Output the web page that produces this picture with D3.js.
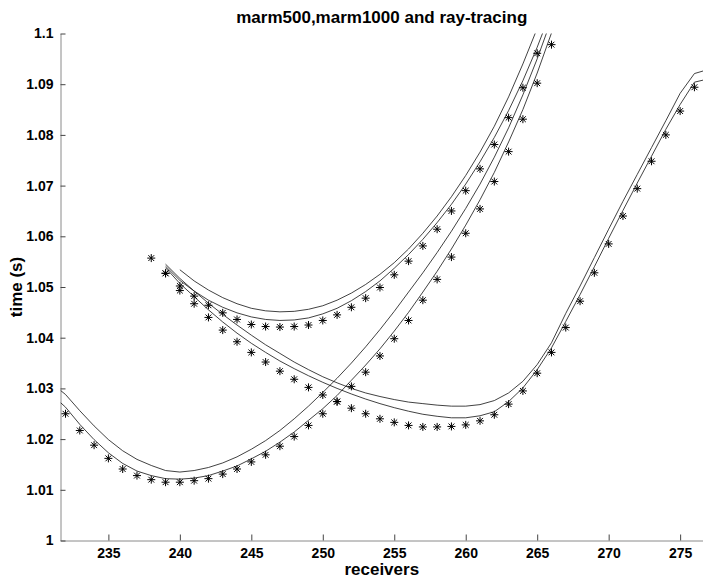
<!DOCTYPE html>
<html>
<head>
<meta charset="utf-8">
<script src="https://cdn.jsdelivr.net/npm/d3@7"></script>
<style>
  html, body { margin: 0; padding: 0; background: #fff; }
  svg { display: block; }
  text { font-family: "Liberation Sans", Arial, Helvetica, sans-serif; font-weight: bold; fill: #000; }
</style>
</head>
<body>
<svg id="chart" width="703" height="580"></svg>
<script>
// Axis ticks
const xTicks = [235, 240, 245, 250, 255, 260, 265, 270, 275];
const yTicks = [1, 1.01, 1.02, 1.03, 1.04, 1.05, 1.06, 1.07, 1.08, 1.09, 1.1];
const yTickLabels = ["1", "1.01", "1.02", "1.03", "1.04", "1.05", "1.06", "1.07", "1.08", "1.09", "1.1"];

// Shot A: ray-tracing picks and the two marmousi model runs
const rayA_x = [232,233,234,235,236,237,238,239,240,241,242,243,244,245,246,247,248,249,250,251,252,253,254,255,256,257,258,259,260,261,262,263,264,265,266];
const rayA_t = [1.0250,1.0217,1.0188,1.0162,1.0141,1.0128,1.0120,1.0115,1.0115,1.0118,1.0122,1.0131,1.0141,1.0155,1.0169,1.0186,1.0205,1.0227,1.0250,1.0274,1.0304,1.0332,1.0364,1.0398,1.0434,1.0474,1.0515,1.0559,1.0606,1.0654,1.0708,1.0767,1.0831,1.0902,1.0978];
const marmA_x = [231.65,232,233,234,235,236,237,238,239,240,241,242,243,244,245,246,247,248,249,250,251,252,253,254,255,256,257,258,259,260,261,262,263,264,265,266];
const marm1000A = [1.0272,1.0263,1.0229,1.0199,1.0173,1.0152,1.0137,1.0128,1.0122,1.0121,1.0123,1.0128,1.0137,1.0147,1.0161,1.0176,1.0194,1.0214,1.0237,1.0260,1.0286,1.0316,1.0346,1.0378,1.0413,1.0450,1.0490,1.0531,1.0575,1.0622,1.0672,1.0726,1.0786,1.0850,1.0922,1.1001];
const marm500A = [1.0296,1.0288,1.0256,1.0226,1.0199,1.0177,1.0160,1.0148,1.0138,1.0135,1.0138,1.0144,1.0153,1.0165,1.0180,1.0197,1.0217,1.0240,1.0265,1.0292,1.0320,1.0350,1.0382,1.0416,1.0452,1.0490,1.0528,1.0568,1.0610,1.0655,1.0703,1.0756,1.0814,1.0879,1.0950,1.1028];

// Shot B
const rayB_x = [238,239,240,241,242,243,244,245,246,247,248,249,250,251,252,253,254,255,256,257,258,259,260,261,262,263,264,265];
const rayB_t = [1.0557,1.0527,1.0502,1.0482,1.0464,1.0449,1.0436,1.0426,1.0422,1.0421,1.0422,1.0425,1.0434,1.0445,1.0460,1.0478,1.0499,1.0524,1.0551,1.0581,1.0614,1.0650,1.0690,1.0733,1.0781,1.0834,1.0893,1.0961];
const marm1000B_x = [239,240,241,242,243,244,245,246,247,248,249,250,251,252,253,254,255,256,257,258,259,260,261,262,263,264,265,266];
const marm1000B = [1.0541,1.0513,1.0492,1.0474,1.0460,1.0449,1.0441,1.0436,1.0434,1.0435,1.0439,1.0447,1.0458,1.0473,1.0491,1.0512,1.0537,1.0564,1.0594,1.0627,1.0663,1.0703,1.0747,1.0795,1.0848,1.0907,1.0973,1.1046];
const marm500B_x = [240,241,242,243,244,245,246,247,248,249,250,251,252,253,254,255,256,257,258,259,260,261,262,263,264,265];
const marm500B = [1.0534,1.0512,1.0494,1.0479,1.0467,1.0458,1.0453,1.0451,1.0452,1.0456,1.0463,1.0474,1.0488,1.0505,1.0525,1.0548,1.0575,1.0606,1.0640,1.0678,1.0720,1.0766,1.0817,1.0875,1.0940,1.1010];

// Shot C
const rayC_x = [239,240,241,242,243,244,245,246,247,248,249,250,251,252,253,254,255,256,257,258,259,260,261,262,263,264,265,266,267,268,269,270,271,272,273,274,275,276];
const rayC_t = [1.0527,1.0493,1.0467,1.0440,1.0415,1.0392,1.0371,1.0352,1.0334,1.0318,1.0302,1.0287,1.0274,1.0261,1.0250,1.0240,1.0233,1.0227,1.0224,1.0224,1.0225,1.0228,1.0236,1.0248,1.0269,1.0295,1.0330,1.0371,1.0420,1.0472,1.0528,1.0585,1.0640,1.0694,1.0748,1.0800,1.0847,1.0894];
const marmC_x = [239,240,241,242,243,244,245,246,247,248,249,250,251,252,253,254,255,256,257,258,259,260,261,262,263,264,265,266,267,268,269,270,271,272,273,274,275,276,276.6];
const marm1000C = [1.0538,1.0507,1.0481,1.0455,1.0431,1.0409,1.0389,1.0371,1.0354,1.0339,1.0325,1.0312,1.0300,1.0289,1.0279,1.0270,1.0262,1.0255,1.0249,1.0245,1.0242,1.0242,1.0246,1.0254,1.0274,1.0301,1.0337,1.0380,1.0432,1.0485,1.0540,1.0596,1.0651,1.0705,1.0758,1.0811,1.0860,1.0904,1.0908];
const marm500C = [1.0545,1.0517,1.0492,1.0468,1.0446,1.0425,1.0405,1.0386,1.0369,1.0352,1.0337,1.0323,1.0311,1.0300,1.0291,1.0284,1.0278,1.0273,1.0270,1.0267,1.0265,1.0265,1.0268,1.0276,1.0291,1.0314,1.0347,1.0390,1.0448,1.0502,1.0558,1.0614,1.0669,1.0722,1.0775,1.0828,1.0882,1.0921,1.0926];

const svg = d3.select("#chart");
const plotLeft = 60.5, plotRight = 703, plotTop = 33.5, plotBottom = 540.5;

const x = d3.scaleLinear().domain([231.65, 276.6]).range([plotLeft, plotRight]);
const y = d3.scaleLinear().domain([1, 1.1]).range([plotBottom, plotTop]);

svg.append("defs").append("clipPath").attr("id", "plotClip")
  .append("rect").attr("x", plotLeft).attr("y", plotTop)
  .attr("width", plotRight - plotLeft).attr("height", plotBottom - plotTop);

// Axes (ticks point inward, no box)
const xAxis = svg.append("g").attr("transform", `translate(0,${plotBottom})`)
  .call(d3.axisBottom(x).tickValues(xTicks).tickFormat(d3.format("d")).tickSizeInner(-6).tickSizeOuter(0).tickPadding(8));
const yAxis = svg.append("g").attr("transform", `translate(${plotLeft},0)`)
  .call(d3.axisLeft(y).tickValues(yTicks).tickFormat((d, i) => yTickLabels[i]).tickSizeInner(-5).tickSizeOuter(0).tickPadding(7));

[xAxis, yAxis].forEach(g => {
  g.select(".domain").attr("stroke", "#8a8a8a").attr("stroke-width", 1);
  g.selectAll(".tick line").attr("stroke", "#444").attr("stroke-width", 1);
  g.selectAll(".tick text").attr("font-size", 14).attr("font-weight", "bold")
    .attr("font-family", "'Liberation Sans', Arial, Helvetica, sans-serif").attr("fill", "#000");
});

// Model curves
const plot = svg.append("g").attr("clip-path", "url(#plotClip)");
const line = d3.line().x(d => x(d[0])).y(d => y(d[1])).curve(d3.curveLinear);
const curves = [
  [marmA_x, marm500A], [marmA_x, marm1000A],
  [marm500B_x, marm500B], [marm1000B_x, marm1000B],
  [marmC_x, marm500C], [marmC_x, marm1000C]
];
curves.forEach(([xs, ts]) => {
  plot.append("path")
    .datum(xs.map((v, i) => [v, ts[i]]))
    .attr("d", line)
    .attr("fill", "none")
    .attr("stroke", "#111")
    .attr("stroke-width", 0.8);
});

// Ray-tracing picks drawn as '*' markers
const r = 4, a = 2.9;
const starPath = `M${-r},0H${r}M0,${-r}V${r}M${-a},${-a}L${a},${a}M${-a},${a}L${a},${-a}`;
const picks = [[rayA_x, rayA_t], [rayB_x, rayB_t], [rayC_x, rayC_t]];
picks.forEach(([xs, ts]) => {
  plot.append("g").selectAll("path")
    .data(xs.map((v, i) => [v, ts[i]]))
    .join("path")
    .attr("transform", d => `translate(${x(d[0])},${y(d[1])})`)
    .attr("d", starPath)
    .attr("fill", "none")
    .attr("stroke", "#000")
    .attr("stroke-width", 1);
});

// Title and axis labels
svg.append("text").attr("x", (plotLeft + plotRight) / 2).attr("y", 23)
  .attr("text-anchor", "middle").attr("font-size", 17)
  .text("marm500,marm1000 and ray-tracing");
svg.append("text").attr("x", (plotLeft + plotRight) / 2).attr("y", 575)
  .attr("text-anchor", "middle").attr("font-size", 17)
  .text("receivers");
svg.append("text").attr("transform", `translate(22,${(plotTop + plotBottom) / 2}) rotate(-90)`)
  .attr("text-anchor", "middle").attr("font-size", 17)
  .text("time (s)");
</script>
</body>
</html>
